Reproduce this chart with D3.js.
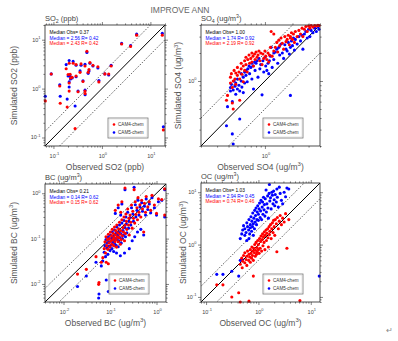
<!DOCTYPE html>
<html>
<head>
  <meta charset="utf-8">
  <title>IMPROVE ANN</title>
  <script src="https://d3js.org/d3.v7.min.js"></script>
  <style>
    body { margin: 0; background: #fff; }
    text { font-family: "Liberation Sans", Arial, Helvetica, sans-serif; }
  </style>
</head>
<body>
  <div id="my_dataviz"></div>

<script>
  // ---- IMPROVE annual means: observed vs simulated, one entry per site ----

  // SO2 (ppb)
  const so2Obs  = [5.2, 17.6, 2.55, 3.9, 0.49, 0.211, 0.255, 0.183, 0.293, 0.371, 0.448, 0.566, 0.653, 0.826, 0.541, 0.52,
                   0.201, 0.221, 0.243, 0.225, 0.354, 0.293, 0.211, 0.211, 0.407, 0.322, 0.448, 0.45, 0.866, 1.15, 1.38, 1.55,
                   0.135, 0.090, 0.138, 0.192, 0.28, 0.068, 18.5];
  const so2Cam4 = [12.4, 12.4, 8.2, 7.3, 5.8, 3.3, 3.3, 2.55, 3.1, 3.2, 2.9, 3.4, 3.0, 2.8, 2.45, 2.15,
                   1.95, 1.97, 1.7, 1.65, 2.15, 1.81, 1.30, 0.89, 1.4, 0.86, 0.89, 0.79, 1.37, 2.0, 1.99, 2.9,
                   1.13, 1.99, 0.50, 0.42, 0.152, 0.56, 0.143];
  const so2Cam5 = [13.0, 13.5, 8.4, 7.6, 5.5, 3.75, 3.6, 3.1, 3.0, 3.0, 3.15, 3.3, 2.9, 2.64, 2.3, 2.05,
                   1.81, 1.8, 1.65, 1.58, 2.3, 1.75, 1.37, 1.08, 1.45, 0.89, 0.93, 0.75, 1.47, 2.0, 1.9, 3.0,
                   1.2, 2.0, 0.70, 0.61, 0.44, 0.70, 0.166];

  // SO4 (ug/m3)
  const so4Obs  = [0.38, 0.39, 0.42, 0.42, 0.43, 0.44, 0.44, 0.45, 0.45, 0.46, 0.47, 0.48, 0.48, 0.50, 0.50, 0.52,
                   0.53, 0.53, 0.55, 0.55, 0.56, 0.58, 0.58, 0.60, 0.60, 0.62, 0.62, 0.64, 0.65, 0.67, 0.68, 0.70,
                   0.72, 0.72, 0.74, 0.75, 0.77, 0.78, 0.80, 0.82, 0.84, 0.86, 0.88, 0.90, 0.93, 0.95, 0.97, 1.00,
                   1.02, 1.05, 1.08, 1.10, 1.12, 1.15, 1.17, 1.20, 1.25, 1.25, 1.30, 1.35, 1.38, 1.42, 1.45, 1.50,
                   1.55, 1.60, 1.65, 1.70, 1.75, 1.80, 1.85, 1.90, 1.90, 1.95, 2.00, 2.05, 2.10, 2.15, 2.25, 2.35,
                   2.45, 2.55, 2.60, 2.70, 2.80, 2.90, 3.00, 3.10, 3.20, 3.35, 3.50, 3.65, 3.80, 3.90];
  const so4Cam4 = [0.62, 0.70, 0.95, 1.10, 1.20, 0.58, 0.85, 0.50, 1.00, 1.30, 1.05, 0.92, 1.22, 1.15, 1.40, 1.25,
                   0.62, 1.05, 1.35, 1.55, 1.18, 1.45, 0.98, 1.30, 1.65, 1.80, 1.50, 1.25, 1.70, 1.90, 1.55, 1.75,
                   2.00, 1.60, 1.85, 1.45, 1.95, 1.70, 2.05, 1.80, 1.90, 2.10, 1.65, 2.00, 1.50, 1.95, 1.75, 2.10,
                   1.85, 1.70, 2.00, 1.60, 1.90, 2.30, 3.40, 1.85, 2.10, 3.20, 2.30, 2.60, 2.05, 2.75, 2.40, 2.90,
                   2.55, 2.20, 3.00, 2.65, 2.80, 3.10, 2.45, 3.00, 2.90, 3.30, 2.80, 3.20, 2.60, 3.40, 3.00, 3.50,
                   3.20, 3.70, 3.00, 3.60, 3.85, 3.40, 3.90, 3.70, 3.95, 3.80, 3.95, 3.90, 3.98, 3.95];
  const so4Cam5 = [0.33, 0.53, 0.78, 0.85, 0.92, 0.27, 0.60, 0.21, 0.80, 1.00, 0.88, 0.72, 0.95, 0.82, 1.05, 0.90,
                   0.39, 0.78, 1.00, 1.20, 0.86, 1.10, 0.75, 0.95, 1.25, 1.30, 1.15, 0.98, 1.35, 1.45, 1.20, 1.40,
                   1.55, 1.05, 1.45, 0.82, 1.60, 1.30, 1.55, 1.65, 1.10, 1.75, 1.35, 1.50, 0.71, 1.65, 1.25, 1.80,
                   1.45, 1.30, 1.55, 1.20, 1.65, 1.85, 2.30, 1.40, 1.70, 2.00, 2.05, 2.20, 1.55, 2.30, 1.90, 2.50,
                   2.00, 1.75, 2.45, 2.20, 2.10, 2.60, 1.95, 0.70, 2.30, 2.70, 2.40, 2.90, 2.15, 2.80, 2.50, 3.00,
                   2.70, 3.10, 2.20, 3.20, 3.40, 2.90, 3.60, 3.00, 3.50, 3.30, 3.70, 3.40, 3.80, 3.60];

  // BC (ug/m3)
  const bcObs  = [0.075, 0.078, 0.080, 0.082, 0.085, 0.088, 0.090, 0.092, 0.095, 0.097, 0.100, 0.102, 0.105, 0.108, 0.110, 0.112,
                  0.115, 0.118, 0.120, 0.122, 0.125, 0.128, 0.130, 0.133, 0.135, 0.138, 0.140, 0.143, 0.146, 0.150, 0.153, 0.156,
                  0.160, 0.163, 0.167, 0.170, 0.175, 0.180, 0.185, 0.190, 0.195, 0.200, 0.205, 0.210, 0.210, 0.215, 0.220, 0.225,
                  0.230, 0.240, 0.250, 0.255, 0.260, 0.270, 0.280, 0.290, 0.300, 0.310, 0.320, 0.330, 0.340, 0.350, 0.360, 0.380,
                  0.390, 0.400, 0.420, 0.440, 0.460, 0.480, 0.500, 0.530, 0.550, 0.580, 0.600, 0.650, 0.700, 0.750, 0.800, 0.900,
                  1.00, 1.10, 1.30, 1.50, 1.50, 0.031, 0.020, 0.058, 0.057, 0.083, 0.092, 0.065, 0.050, 0.070,
                  0.13, 0.15, 0.17, 0.18];
  const bcCam4 = [0.060, 0.085, 0.048, 0.110, 0.070, 0.095, 0.058, 0.125, 0.080, 0.100, 0.065, 0.140, 0.088, 0.115, 0.075, 0.160,
                  0.095, 0.130, 0.070, 0.105, 0.180, 0.085, 0.120, 0.150, 0.095, 0.065, 0.200, 0.110, 0.135, 0.085, 0.165, 0.105,
                  0.230, 0.125, 0.075, 0.150, 0.095, 0.260, 0.115, 0.175, 0.140, 0.300, 0.090, 0.200, 1.30, 0.130, 0.350, 0.240,
                  0.160, 0.450, 0.200, 0.280, 0.120, 0.330, 0.230, 0.550, 0.170, 0.400, 0.280, 1.20, 0.220, 0.650, 0.340, 0.480,
                  0.260, 0.800, 0.380, 0.560, 0.300, 0.700, 0.450, 0.140, 0.600, 0.380, 0.850, 0.500, 0.650, 0.420, 0.900, 0.550,
                  0.36, 0.75, 0.73, 1.25, 0.33, 0.021, 0.0165, 0.0108, 0.0098, 0.030, 0.028, 0.030, 0.040, 0.038,
                  0.42, 0.55, 0.38, 0.65];
  const bcCam5 = [0.050, 0.070, 0.040, 0.095, 0.062, 0.080, 0.045, 0.110, 0.068, 0.085, 0.055, 0.120, 0.072, 0.100, 0.060, 0.140,
                  0.082, 0.110, 0.052, 0.090, 0.155, 0.075, 0.100, 0.130, 0.070, 0.048, 0.180, 0.095, 0.118, 0.066, 0.140, 0.088,
                  0.200, 0.105, 0.042, 0.130, 0.080, 0.220, 0.100, 0.150, 0.120, 0.250, 0.048, 0.175, 1.20, 0.110, 0.300, 0.210,
                  0.135, 0.380, 0.170, 0.240, 0.060, 0.290, 0.200, 0.480, 0.090, 0.350, 0.240, 1.35, 0.110, 0.560, 0.300, 0.420,
                  0.140, 0.700, 0.330, 0.500, 0.160, 0.620, 0.400, 0.120, 0.520, 0.330, 0.750, 0.440, 0.580, 0.370, 0.800, 0.480,
                  0.33, 0.65, 0.70, 1.20, 0.30, 0.015, 0.0088, 0.0060, 0.0049, 0.0122, 0.0068, 0.025, 0.030, 0.032,
                  0.36, 0.48, 0.33, 0.58];

  // OC (ug/m3); null = no model value in range
  const ocObs  = [0.16, 0.21, 0.31, 0.42, 0.45, 0.49, 0.66, 0.80, 0.45, 0.48, 0.50, 0.52, 0.55, 0.55, 0.58, 0.60,
                  0.60, 0.62, 0.65, 0.66, 0.68, 0.70, 0.70, 0.72, 0.74, 0.75, 0.77, 0.78, 0.80, 0.82, 0.84, 0.85,
                  0.87, 0.88, 0.90, 0.92, 0.94, 0.95, 0.97, 1.00, 1.00, 1.03, 1.05, 1.08, 1.10, 1.12, 1.15, 1.18,
                  1.20, 1.22, 1.25, 1.28, 1.30, 1.33, 1.35, 1.40, 1.42, 1.45, 1.50, 1.52, 1.55, 1.60, 1.62, 1.65,
                  1.70, 1.75, 1.80, 1.85, 1.90, 1.95, 2.00, 2.05, 2.10, 2.20, 2.25, 2.30, 2.40, 2.50, 2.60, 2.75,
                  2.90, 3.10, 3.30, 3.50, 3.80, 6.20, 14.5];
  const ocCam4 = [0.17, 0.17, 0.10, 0.12, 0.08, 0.36, 0.083, 0.25, 0.42, 0.55, 0.48, 0.62, 0.45, 0.70, 0.52, 0.60,
                  0.40, 0.75, 0.50, 0.65, 0.58, 0.80, 0.46, 0.68, 0.55, 0.90, 0.62, 0.75, 0.50, 0.85, 0.70, 1.00,
                  0.60, 0.78, 1.10, 0.65, 0.88, 0.72, 1.20, 0.80, 1.00, 0.68, 1.30, 0.85, 1.15, 1.45, 0.75, 1.25,
                  1.60, 0.95, 1.40, 1.10, 1.75, 0.80, 1.50, 1.90, 1.20, 1.65, 2.00, 1.35, 0.90, 2.20, 1.55, 1.80,
                  2.40, 1.30, 2.00, 2.60, 1.70, 2.90, 2.20, 1.50, 3.00, 2.50, 0.73, 3.30, 2.00, 2.80, 3.60, 2.40,
                  3.20, 2.70, 3.90, 0.85, 3.00, 0.085, null];
  const ocCam5 = [0.27, 0.27, 0.31, 0.25, 0.50, 0.51, 1.30, 1.50, 1.30, 1.60, 1.90, 2.30, 1.50, 2.00, 1.70, 2.60,
                  1.20, 2.20, 1.90, 3.00, 1.60, 2.40, 2.10, 3.40, 1.80, 2.80, 2.20, 4.00, 2.50, 3.20, 2.00, 4.50,
                  2.70, 3.60, 5.00, 2.40, 3.00, 4.20, 5.50, 2.90, 3.80, 4.80, 6.20, 3.30, 4.40, 7.00, 3.00, 5.20,
                  6.50, 3.80, 8.00, 4.60, 5.80, 3.50, 7.50, 11.0, 4.20, 6.00, 8.50, 5.00, 3.20, 9.50, 14.0, 6.80,
                  7.80, 4.80, 10.0, 8.80, 6.00, 10.5, 7.20, 5.50, 9.00, 6.50, 11.5, 8.00, 5.20, 12.5, 9.50, 7.00,
                  6.00, 10.0, 8.20, 12.0, 11.5, null, 0.25];

  // summary statistics printed in each panel
  const medianObs  = ["0.37", "1.00", "0.21", "1.03"];
  const medianCam5 = ["2.56", "1.74", "0.14", "2.94"];
  const rCam5      = ["0.42", "0.92", "0.62", "0.45"];
  const medianCam4 = ["2.43", "2.19", "0.15", "0.74"];
  const rCam4      = ["0.42", "0.92", "0.62", "0.46"];

  const cam4Color = "#ff0000", cam5Color = "#0000ff";

  const svg = d3.select("#my_dataviz")
    .append("svg")
      .attr("width", 398)
      .attr("height", 341);

  svg.append("text")
    .attr("x", 180).attr("y", 13)
    .attr("text-anchor", "middle")
    .attr("font-size", 8.5)
    .attr("fill", "#666")
    .text("IMPROVE ANN");

  // panel layout + data wiring
  const panels = [
    { left: 45,  top: 25,  w: 120, h: 121, range: [0.067, 20], yTitleX: 16.5,
      obs: so2Obs, cam4: so2Cam4, cam5: so2Cam5, sp: "SO", sub: "2", unit: " (ppb)", axisName: "SO2", axisUnit: " (ppb)" },
    { left: 201, top: 25,  w: 119, h: 121, range: [0.2, 4], yTitleX: 181,
      obs: so4Obs, cam4: so4Cam4, cam5: so4Cam5, sp: "SO", sub: "4", unit: " (ug/m", axisName: "SO4", axisUnit: " (ug/m" },
    { left: 45,  top: 184, w: 121, h: 118, range: [0.004, 1.6], yTitleX: 16.5,
      obs: bcObs, cam4: bcCam4, cam5: bcCam5, sp: "BC", sub: "", unit: " (ug/m", axisName: "BC", axisUnit: " (ug/m" },
    { left: 201, top: 183, w: 119, h: 119, range: [0.08, 15], yTitleX: 186,
      obs: ocObs, cam4: ocCam4, cam5: ocCam5, sp: "OC", sub: "", unit: " (ug/m", axisName: "OC", axisUnit: " (ug/m" }
  ];

  // writes "name (unit)" with an optional subscript and a cubed-metre superscript
  function unitText(sel, name, sub, unit, size) {
    sel.append("tspan").text(name);
    if (sub) {
      sel.append("tspan").attr("font-size", size * 0.7).attr("dy", size * 0.25).text(sub);
      sel.append("tspan").attr("dy", -size * 0.25).text(unit);
    } else {
      sel.append("tspan").text(unit);
    }
    if (unit.indexOf("ug/m") >= 0) {
      sel.append("tspan").attr("font-size", size * 0.7).attr("dy", -size * 0.4).text("3");
      sel.append("tspan").attr("dy", size * 0.4).text(")");
    }
  }

  panels.forEach(function(p, i) {
    const g = svg.append("g")
      .attr("transform", `translate(${p.left},${p.top})`);

    const x = d3.scaleLog().domain(p.range).range([0, p.w]);
    const y = d3.scaleLog().domain(p.range).range([p.h, 0]);

    // decade and sub-decade tick values inside the range
    const lo = Math.floor(Math.log10(p.range[0])), hi = Math.ceil(Math.log10(p.range[1]));
    const inside = v => v >= p.range[0] * 0.999 && v <= p.range[1] * 1.001;
    const majors = d3.range(lo, hi + 1).map(k => Math.pow(10, k)).filter(inside);
    const minors = [];
    d3.range(lo, hi + 1).forEach(k => d3.range(2, 10).forEach(m => {
      const v = m * Math.pow(10, k);
      if (inside(v)) minors.push(v);
    }));

    // ticks on all four sides, pointing outward
    const sides = [
      [d3.axisBottom, x, `translate(0,${p.h})`],
      [d3.axisTop, x, "translate(0,0)"],
      [d3.axisLeft, y, "translate(0,0)"],
      [d3.axisRight, y, `translate(${p.w},0)`]
    ];
    sides.forEach(function([make, s, tr]) {
      [[majors, 3], [minors, 1.6]].forEach(function([vals, len]) {
        const a = g.append("g")
          .attr("transform", tr)
          .call(make(s).tickValues(vals).tickSize(len).tickSizeOuter(0).tickFormat(""));
        a.select(".domain").remove();
        a.selectAll("line").attr("stroke", "#333").attr("stroke-width", 0.6);
      });
    });

    // 10^n labels, bottom and left
    const expLabel = function(d) {
      const t = d3.select(this);
      t.append("tspan").text("10");
      t.append("tspan").attr("font-size", 4).attr("dy", -2.6).text(Math.round(Math.log10(d)));
    };
    g.selectAll(".xlab").data(majors).join("text")
      .attr("x", d => x(d) + 1).attr("y", p.h + 11.5)
      .attr("text-anchor", "middle").attr("font-size", 5.5).attr("fill", "#444")
      .each(expLabel);
    g.selectAll(".ylab").data(majors).join("text")
      .attr("x", -4.5).attr("y", d => y(d) + 2)
      .attr("text-anchor", "end").attr("font-size", 5.5).attr("fill", "#444")
      .each(expLabel);

    // 1:1 line and factor-of-2 lines
    const clipId = "clip" + i;
    g.append("clipPath").attr("id", clipId)
      .append("rect").attr("width", p.w).attr("height", p.h);
    const line = d3.line().x(d => x(d[0])).y(d => y(d[1]));
    const d0 = p.range[0], d1 = p.range[1];
    g.append("path")
      .attr("d", line([[d0, d0], [d1, d1]]))
      .attr("fill", "none").attr("stroke", "#000").attr("stroke-width", 1)
      .attr("clip-path", `url(#${clipId})`);
    [2, 0.5].forEach(f => g.append("path")
      .attr("d", line([[d0, d0 * f], [d1, d1 * f]]))
      .attr("fill", "none").attr("stroke", "#000").attr("stroke-width", 0.8)
      .attr("stroke-dasharray", "1,1.6")
      .attr("clip-path", `url(#${clipId})`));

    // markers: CAM5 first, CAM4 drawn over it
    const sites = p.obs.map((o, k) => ({ obs: o, cam4: p.cam4[k], cam5: p.cam5[k] }));
    const inRange = v => v != null && v >= d0 && v <= d1;
    [["cam5", cam5Color], ["cam4", cam4Color]].forEach(function([key, color]) {
      g.selectAll(".dot-" + key)
        .data(sites.filter(d => inRange(d.obs) && inRange(d[key])))
        .enter()
        .append("circle")
          .attr("class", "dot-" + key)
          .attr("cx", d => x(d.obs))
          .attr("cy", d => y(d[key]))
          .attr("r", 1.55)
          .attr("fill", color);
    });

    // frame
    g.append("rect")
      .attr("width", p.w).attr("height", p.h)
      .attr("fill", "none").attr("stroke", "#222").attr("stroke-width", 0.8);

    // statistics
    const stats = [
      ["Median Obs= " + medianObs[i], "#000"],
      ["Median = " + medianCam5[i] + " R= " + rCam5[i], cam5Color],
      ["Median = " + medianCam4[i] + " R= " + rCam4[i], cam4Color]
    ];
    stats.forEach(function([txt, color], k) {
      g.append("text")
        .attr("x", 4.5).attr("y", 9 + k * 5.6)
        .attr("font-size", 4.8).attr("fill", color)
        .text(txt);
    });

    // legend
    const lg = g.append("g")
      .attr("transform", `translate(${p.w - 57},${p.h - 28})`);
    lg.append("rect")
      .attr("width", 40).attr("height", 20)
      .attr("fill", "#fff").attr("stroke", "#777").attr("stroke-width", 0.8);
    lg.append("rect")
      .attr("x", 1).attr("y", 1).attr("width", 38).attr("height", 18)
      .attr("fill", "none").attr("stroke", "#ccc").attr("stroke-width", 0.5);
    [["CAM4-chem", cam4Color], ["CAM5-chem", cam5Color]].forEach(function([name, color], k) {
      lg.append("circle").attr("cx", 6).attr("cy", 6.5 + k * 8).attr("r", 1.3).attr("fill", color);
      lg.append("text").attr("x", 10).attr("y", 8.2 + k * 8)
        .attr("font-size", 4.6).attr("fill", "#333").text(name);
    });

    // panel title
    g.append("text")
      .attr("x", 0).attr("y", -4)
      .attr("font-size", 7.5).attr("fill", "#444")
      .call(unitText, p.sp, p.sub, p.unit, 7.5);

    // axis titles
    g.append("text")
      .attr("x", p.w / 2).attr("y", p.h + 23.5)
      .attr("text-anchor", "middle").attr("font-size", 8.5).attr("fill", "#555")
      .call(unitText, "Observed " + p.axisName, "", p.axisUnit, 8.5);
    g.append("text")
      .attr("transform", `translate(${p.yTitleX - p.left},${p.h / 2}) rotate(-90)`)
      .attr("text-anchor", "middle").attr("font-size", 8.5).attr("fill", "#555")
      .call(unitText, "Simulated " + p.axisName, "", p.axisUnit, 8.5);
  });

  svg.append("text")
    .attr("x", 389).attr("y", 333)
    .attr("text-anchor", "middle").attr("font-size", 8).attr("fill", "#888")
    .text("↵");
</script>
</body>
</html>
